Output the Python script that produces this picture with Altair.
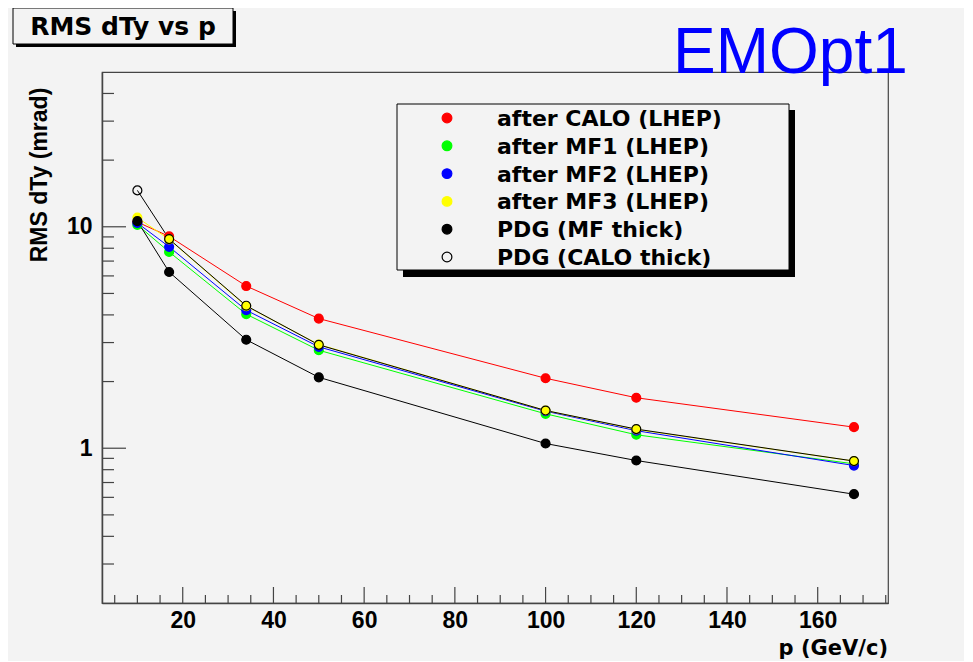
import altair as alt
import pandas as pd

# ---- data ----
p_values = [10, 17, 34, 50, 100, 120, 168]
series_names = ["after CALO (LHEP)", "after MF1 (LHEP)", "after MF2 (LHEP)",
                "after MF3 (LHEP)", "PDG (MF thick)", "PDG (CALO thick)"]
after_calo = [10.5, 9.05, 5.4, 3.85, 2.07, 1.69, 1.245]
after_mf1 = [10.2, 7.7, 4.03, 2.77, 1.43, 1.15, 0.85]
after_mf2 = [10.4, 8.12, 4.2, 2.87, 1.47, 1.2, 0.835]
after_mf3 = [11.0, 8.77, 4.38, 2.94, 1.48, 1.215, 0.875]
pdg_mf = [10.6, 6.25, 3.09, 2.09, 1.05, 0.88, 0.62]
pdg_calo = [14.6, 8.8, 4.4, 2.93, 1.48, 1.22, 0.875]

line_colors = ["#ff0000", "#00ff00", "#0000ff", "#ffff00", "#000000", "#000000"]
fill_colors = ["#ff0000", "#00ff00", "#0000ff", "#ffff00", "#000000", "transparent"]

x_major = [20, 40, 60, 80, 100, 120, 140, 160]
x_minor = [5, 10, 15, 25, 30, 35, 45, 50, 55, 65, 70, 75, 85, 90, 95, 105, 110, 115,
           125, 130, 135, 145, 150, 155, 165, 170, 175]
y_major = [1, 10]
y_minor = [0.3, 0.4, 0.5, 0.6, 0.7, 0.8, 0.9, 2, 3, 4, 5, 6, 7, 8, 9, 20, 30, 40]

title_text = "RMS dTy vs p"
tag_text = "EMOpt1"
x_title = "p (GeV/c)"
y_title = "RMS dTy (mrad)"

all_series = [after_calo, after_mf1, after_mf2, after_mf3, pdg_mf, pdg_calo]
rows = []
for name, vals in zip(series_names, all_series):
    for p, v in zip(p_values, vals):
        rows.append({"series": name, "p": p, "rms": v})
df = pd.DataFrame(rows)
leg_df = pd.DataFrame({"series": series_names})

W, H = 786, 531
BG = "#f3f3f3"
FRAME = "#444444"
AXFONT = "Liberation Sans"

xscale = alt.Scale(domain=[2.2, 175.5], nice=False, zero=False)
yscale = alt.Scale(type="log", domain=[0.2, 50], nice=False)
fill_scale = alt.Scale(domain=series_names, range=fill_colors)
stroke_scale = alt.Scale(domain=series_names, range=line_colors)

xaxis = alt.Axis(values=x_major, ticks=False, tickSize=0, grid=False, title=None,
                 labelFont=AXFONT, labelFontWeight="bold", labelFontSize=23,
                 labelColor="black", labelPadding=6, labelFlush=False, labelAngle=0,
                 domainColor=FRAME, domainWidth=1.5)
yaxis = alt.Axis(values=y_major, ticks=False, tickSize=0, grid=False, title=None,
                 format="~g", labelFont=AXFONT, labelFontWeight="bold", labelFontSize=23,
                 labelColor="black", labelPadding=10, labelFlush=False,
                 domainColor=FRAME, domainWidth=1.5)

base = alt.Chart(df)

lines = base.mark_line(strokeWidth=1).encode(
    x=alt.X("p:Q", scale=xscale, axis=xaxis),
    y=alt.Y("rms:Q", scale=yscale, axis=yaxis),
    stroke=alt.Stroke("series:N", scale=stroke_scale, legend=None),
    detail="series:N",
)

points = base.mark_point(shape="circle", size=80, strokeWidth=1.2, opacity=1).encode(
    x=alt.X("p:Q", scale=xscale, axis=xaxis),
    y=alt.Y("rms:Q", scale=yscale, axis=yaxis),
    fill=alt.Fill("series:N", scale=fill_scale, legend=None),
    stroke=alt.Stroke("series:N", scale=stroke_scale, legend=None),
)

# tick marks drawn inside the frame, positioned through the shared scales
xmaj = alt.Chart(pd.DataFrame({"v": x_major})).mark_rule(color=FRAME, strokeWidth=1.2).encode(
    x=alt.X("v:Q", scale=xscale, axis=xaxis), y=alt.value(H), y2=alt.value(H - 16))
xmin = alt.Chart(pd.DataFrame({"v": x_minor})).mark_rule(color=FRAME, strokeWidth=1.2).encode(
    x=alt.X("v:Q", scale=xscale, axis=xaxis), y=alt.value(H), y2=alt.value(H - 8))
ymaj = alt.Chart(pd.DataFrame({"v": y_major})).mark_rule(color=FRAME, strokeWidth=1.2).encode(
    y=alt.Y("v:Q", scale=yscale, axis=yaxis), x=alt.value(0), x2=alt.value(24))
ymin = alt.Chart(pd.DataFrame({"v": y_minor})).mark_rule(color=FRAME, strokeWidth=1.2).encode(
    y=alt.Y("v:Q", scale=yscale, axis=yaxis), x=alt.value(0), x2=alt.value(12))

one = pd.DataFrame({"t": [0]})

# title box with shadow
title_shadow = alt.Chart(one).mark_rect(fill="black").encode(
    x=alt.value(-86), x2=alt.value(134), y=alt.value(-61), y2=alt.value(-25))
title_box = alt.Chart(one).mark_rect(fill=BG, stroke="black", strokeWidth=1).encode(
    x=alt.value(-89), x2=alt.value(131), y=alt.value(-64), y2=alt.value(-28))
title = alt.Chart(pd.DataFrame({"t": [title_text]})).mark_text(
    font="DejaVu Sans", fontWeight="bold", fontSize=25, color="black",
    align="center", baseline="alphabetic").encode(
    x=alt.value(21), y=alt.value(-37), text="t:N")

# legend box with shadow
leg_shadow = alt.Chart(one).mark_rect(fill="black").encode(
    x=alt.value(301), x2=alt.value(693), y=alt.value(38), y2=alt.value(205))
leg_box = alt.Chart(one).mark_rect(fill=BG, stroke="black", strokeWidth=1).encode(
    x=alt.value(295), x2=alt.value(687), y=alt.value(32), y2=alt.value(198))

tag = alt.Chart(pd.DataFrame({"t": [tag_text]})).mark_text(
    font="Liberation Sans", fontSize=64, color="#0000ff",
    align="left", baseline="alphabetic").encode(
    x=alt.value(571), y=alt.value(1), text="t:N")

xt = alt.Chart(pd.DataFrame({"t": [x_title]})).mark_text(
    font="DejaVu Sans", fontWeight="bold", fontSize=21, color="black",
    align="right", baseline="alphabetic").encode(
    x=alt.value(W), y=alt.value(583), text="t:N")

yt = alt.Chart(pd.DataFrame({"t": [y_title]})).mark_text(
    font=AXFONT, fontWeight="bold", fontSize=23, color="black", angle=270,
    align="center", baseline="alphabetic").encode(
    x=alt.value(-55), y=alt.value(103), text="t:N")

main = alt.layer(
    leg_shadow, leg_box, xmaj, xmin, ymaj, ymin, lines, points,
    title_shadow, title_box, title, tag, xt, yt
)

# hand-built legend, rows placed by a point scale of its own
leg_y = alt.Y("series:N", sort=series_names,
              scale=alt.Scale(type="point", domain=series_names, range=[46, 185],
                              padding=0),
              axis=None)
leg_pts = alt.Chart(leg_df).mark_point(shape="circle", size=95, strokeWidth=1.2,
                                       opacity=1).encode(
    x=alt.value(345), y=leg_y,
    fill=alt.Fill("series:N", scale=fill_scale, legend=None),
    stroke=alt.Stroke("series:N", scale=stroke_scale, legend=None),
)
leg_txt = alt.Chart(leg_df).mark_text(
    font="DejaVu Sans", fontWeight="bold", fontSize=22, color="black",
    align="left", baseline="middle", dy=1).encode(
    x=alt.value(395), y=leg_y, text="series:N")
legend_layer = alt.layer(leg_pts, leg_txt)

chart = alt.layer(main, legend_layer).resolve_scale(
    y="independent"
).properties(
    width=W, height=H,
    autosize=alt.AutoSizeParams(type="none"),
    padding={"left": 94, "top": 64, "right": 76, "bottom": 58},
    background=BG,
).configure_view(
    stroke=FRAME, strokeWidth=1.2, fill=None
)

chart.save("out.html", embed_options={"renderer": "svg", "actions": False})
